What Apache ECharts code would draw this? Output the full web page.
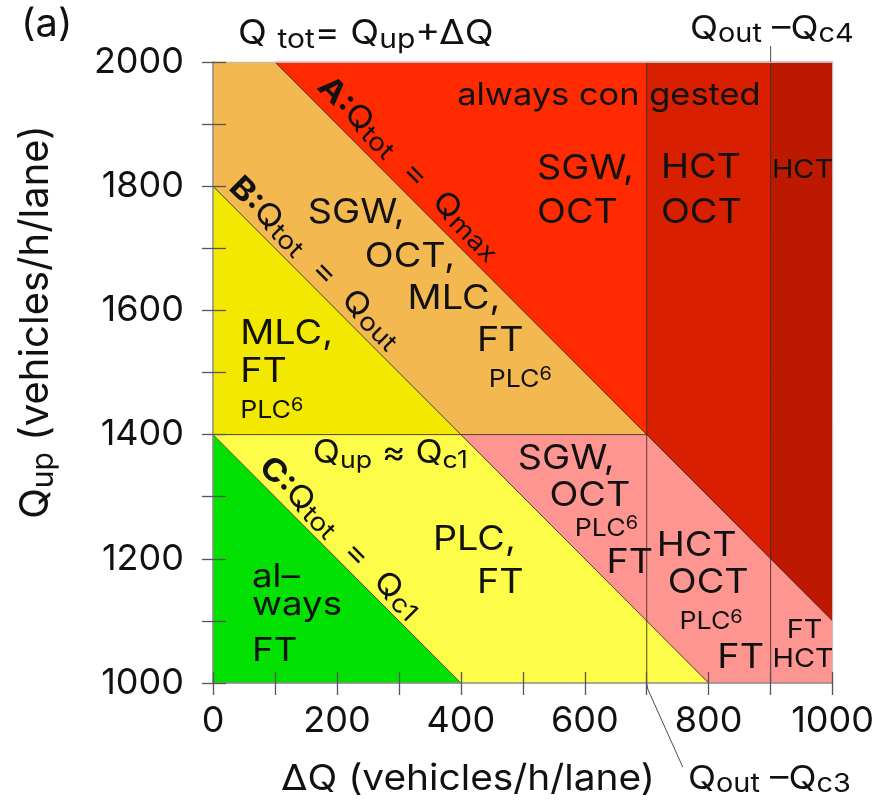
<!DOCTYPE html>
<html>
<head>
<meta charset="utf-8">
<title>Traffic states vs. upstream and ramp flow</title>
<script src="https://cdn.jsdelivr.net/npm/echarts@6/dist/echarts.min.js"></script>
<style>
html, body { margin: 0; padding: 0; background: #ffffff; }
#chart { width: 877px; height: 809px; }
</style>
</head>
<body>
<div id="chart"></div>
<script>
// Labelled tick values (ticks are drawn every 100)
const xTickLabels = [0, 200, 400, 600, 800, 1000];
const yTickLabels = [1000, 1200, 1400, 1600, 1800, 2000];

// Traffic-state regions, vertices given as [ΔQ, Qup]
const freeFlowRegion   = [[0, 1000], [0, 1400], [400, 1000]];
const plcLowRegion     = [[0, 1400], [400, 1400], [800, 1000], [400, 1000]];
const mlcRegion        = [[0, 1400], [0, 1800], [400, 1400]];
const sgwOctRegion     = [[0, 1800], [0, 2000], [100, 2000], [700, 1400], [400, 1400]];
const congestedRegion  = [[100, 2000], [700, 2000], [700, 1400]];
const mixedRegion      = [[400, 1400], [700, 1400], [1000, 1100], [1000, 1000], [800, 1000]];
const hctOctRegion     = [[700, 2000], [900, 2000], [900, 1200], [700, 1400]];
const hctRegion        = [[900, 2000], [1000, 2000], [1000, 1100], [900, 1200]];

// Boundary lines: A (Qtot = Qmax), B (Qtot = Qout), C (Qtot = Qc1), Qup = Qc1, Qout - Qc3, Qout - Qc4
const lineA   = [[100, 2000], [1000, 1100]];
const lineB   = [[0, 1800], [800, 1000]];
const lineC   = [[0, 1400], [400, 1000]];
const lineQc1 = [[0, 1400], [700, 1400]];
const lineQc3 = [[700, 2000], [700, 1000]];
const lineQc4 = [[900, 2000], [900, 1000]];

const regions = [freeFlowRegion, plcLowRegion, mlcRegion, sgwOctRegion,
                 congestedRegion, mixedRegion, hctOctRegion, hctRegion];
const regionColors = ['#03e103', '#fdfc48', '#f3e900', '#f3b84f',
                      '#ff2a00', '#ff9591', '#d81f00', '#bd1900'];
const boundaries = [lineA, lineB, lineC, lineQc1, lineQc3, lineQc4];

const FONT = 'Inter, "Liberation Sans", sans-serif';
const INK = '#111111';
const WIDE = 1.11;   // horizontal stretch of the annotation lettering

function richFor(size, subRatio) {
  const r = subRatio || 0.76;
  return {
    s: { fontSize: Math.round(size * r), lineHeight: Math.round(size * 0.64), verticalAlign: 'bottom', fontFamily: FONT, fill: INK },
    p: { fontSize: Math.round(size * 0.74), lineHeight: Math.round(size * 0.5), verticalAlign: 'top', fontFamily: FONT, fill: INK },
    b: { fontSize: size, fontWeight: 'bold', fontFamily: FONT, fill: INK }
  };
}

// State annotations: text, anchor ΔQ, anchor Qup, font size (left aligned, vertically centred)
const stateLabels = [
  ['always con gested', 394, 1946, 31],
  ['SGW,', 523, 1828, 34], ['OCT', 523, 1758, 34],
  ['HCT', 723, 1829, 34], ['OCT', 723, 1758, 34],
  ['HCT', 902, 1826, 26],
  ['SGW,', 153, 1758, 34], ['OCT,', 245, 1686, 34], ['MLC,', 314, 1618, 34],
  ['FT', 426, 1551, 34], ['PLC{p|6}', 445, 1488, 24],
  ['MLC,', 44, 1562, 34], ['FT', 44, 1501, 34], ['PLC{p|6}', 44, 1438, 24],
  ['Q{s|up} ≈ Q{s|c1}', 161, 1369, 32],
  ['PLC,', 355, 1230, 34], ['FT', 426, 1161, 34],
  ['al–', 63, 1171, 33], ['ways', 63, 1126, 33], ['FT', 63, 1052, 33],
  ['SGW,', 492, 1361, 34], ['OCT', 543, 1301, 34], ['PLC{p|6}', 584, 1248, 24], ['FT', 635, 1193, 34],
  ['HCT', 716, 1221, 34], ['OCT', 734, 1161, 34], ['PLC{p|6}', 753, 1098, 24], ['FT', 814, 1040, 34],
  ['FT', 926, 1085, 26], ['HCT', 903, 1039, 26]
];

// Labels written along the diagonal boundaries: text, point on the line, offset from line (px)
const lineLabels = [
  ['{b|A:}Q{s|tot}  =  Q{s|max}', 294, 1806, 20],
  ['{b|B:}Q{s|tot}  =  Q{s|out}', 144, 1656, 18],
  ['{b|C:}Q{s|tot}  =  Q{s|c1}', 186, 1214, 17]
];

const chart = echarts.init(document.getElementById('chart'));

function renderRegion(params, api) {
  const i = params.dataIndex;
  return {
    type: 'polygon',
    shape: { points: regions[i].map(p => api.coord(p)) },
    style: { fill: regionColors[i], stroke: regionColors[i], lineWidth: 0.6 }
  };
}

function renderBoundary(params, api) {
  const i = params.dataIndex;
  const pts = boundaries[i].map(p => api.coord(p));
  if (boundaries[i] === lineQc4) {
    pts.unshift([pts[0][0], pts[0][1] - 16]);
  }
  if (boundaries[i] === lineQc3) {
    const end = pts[pts.length - 1];
    pts.push([end[0] + 1, end[1] + 6]);
    pts.push([end[0] + 36, end[1] + 84]);
  }
  return {
    type: 'polyline',
    shape: { points: pts },
    style: { stroke: '#3a2b24', lineWidth: 1, fill: null, opacity: 0.85 }
  };
}

function renderStateLabel(params, api) {
  const lab = stateLabels[params.dataIndex];
  const c = api.coord([lab[1], lab[2]]);
  return {
    type: 'text',
    x: c[0], y: c[1], scaleX: WIDE,
    style: {
      text: lab[0], rich: richFor(lab[3]),
      fontSize: lab[3], lineHeight: Math.round(lab[3] * 1.15), fontFamily: FONT, fill: INK,
      align: 'left', verticalAlign: 'middle'
    }
  };
}

function renderLineLabel(params, api) {
  const lab = lineLabels[params.dataIndex];
  const c = api.coord([lab[1], lab[2]]);
  const d = lab[3] / Math.SQRT2;
  return {
    type: 'text',
    x: c[0] + d, y: c[1] - d,
    rotation: -Math.PI / 4, scaleX: 1.13,
    style: {
      text: lab[0], rich: richFor(31, 0.82),
      fontSize: 31, lineHeight: 35, fontFamily: FONT, fill: INK,
      align: 'center', verticalAlign: 'middle'
    }
  };
}

const tickStyle = { color: '#555555', width: 1.3 };
const axisLineStyle = { color: '#8d8d8d', width: 1.5 };
const frameStyle = { color: '#bdbdbd', width: 1 };

const option = {
  animation: false,
  grid: { left: 213, right: 44, top: 62, bottom: 126 },
  xAxis: [
    {
      type: 'value', min: 0, max: 1000, interval: 100, position: 'bottom', z: 10,
      axisLine: { show: true, onZero: false, lineStyle: axisLineStyle },
      axisTick: { show: true, inside: false, length: 12, lineStyle: tickStyle },
      axisLabel: {
        show: true, margin: 20, fontSize: 36, fontFamily: FONT, color: INK,
        showMinLabel: true, showMaxLabel: true,
        formatter: v => (xTickLabels.includes(v) ? String(v) : '')
      },
      splitLine: { show: false }
    },
    {
      type: 'value', min: 0, max: 1000, interval: 100, position: 'bottom', z: 10,
      axisLine: { show: false, onZero: false },
      axisTick: { show: true, inside: true, length: 11, lineStyle: tickStyle },
      axisLabel: { show: false }, splitLine: { show: false }
    },
    {
      type: 'value', min: 0, max: 1000, position: 'top', z: 10,
      axisLine: { show: true, onZero: false, lineStyle: frameStyle },
      axisTick: { show: false }, axisLabel: { show: false }, splitLine: { show: false }
    }
  ],
  yAxis: [
    {
      type: 'value', min: 1000, max: 2000, interval: 100, position: 'left', z: 10,
      axisLine: { show: true, onZero: false, lineStyle: axisLineStyle },
      axisTick: { show: true, inside: false, length: 11, lineStyle: tickStyle },
      axisLabel: {
        show: true, margin: 29, fontSize: 36, fontFamily: FONT, color: INK,
        showMinLabel: true, showMaxLabel: true,
        formatter: v => (yTickLabels.includes(v) ? String(v) : '')
      },
      splitLine: { show: false }
    },
    {
      type: 'value', min: 1000, max: 2000, interval: 100, position: 'left', z: 10,
      axisLine: { show: false, onZero: false },
      axisTick: { show: true, inside: true, length: 13, lineStyle: tickStyle },
      axisLabel: { show: false }, splitLine: { show: false }
    },
    {
      type: 'value', min: 1000, max: 2000, position: 'right', z: 10,
      axisLine: { show: true, onZero: false, lineStyle: frameStyle },
      axisTick: { show: false }, axisLabel: { show: false }, splitLine: { show: false }
    }
  ],
  series: [
    { type: 'custom', z: 1, renderItem: renderRegion, data: regions.map((r, i) => [i]), silent: true },
    { type: 'custom', z: 3, renderItem: renderBoundary, data: boundaries.map((b, i) => [i]), silent: true, clip: false },
    { type: 'custom', z: 5, renderItem: renderStateLabel, data: stateLabels.map((l, i) => [i]), silent: true, clip: false },
    { type: 'custom', z: 5, renderItem: renderLineLabel, data: lineLabels.map((l, i) => [i]), silent: true, clip: false }
  ],
  graphic: [
    { type: 'text', x: 21, y: 25, scaleX: 1.05, style: { text: '(a)', fontSize: 38, fontFamily: FONT, fill: INK, align: 'left', verticalAlign: 'middle' } },
    { type: 'text', x: 238, y: 34, scaleX: WIDE, style: {
        text: 'Q {s|tot}= Q{s|up}+ΔQ', rich: richFor(34, 0.78), fontSize: 34, lineHeight: 38,
        fontFamily: FONT, fill: INK, align: 'left', verticalAlign: 'middle' } },
    { type: 'text', x: 690, y: 29, scaleX: WIDE, style: {
        text: 'Q{s|out} –Q{s|c4}', rich: richFor(33, 0.8), fontSize: 33, lineHeight: 37,
        fontFamily: FONT, fill: INK, align: 'left', verticalAlign: 'middle' } },
    { type: 'text', x: 688, y: 779, scaleX: WIDE, style: {
        text: 'Q{s|out} –Q{s|c3}', rich: richFor(33, 0.8), fontSize: 33, lineHeight: 37,
        fontFamily: FONT, fill: INK, align: 'left', verticalAlign: 'middle' } },
    { type: 'text', x: 468, y: 779, scaleX: 1.08, style: {
        text: 'ΔQ (vehicles/h/lane)', fontSize: 36, fontFamily: FONT, fill: INK,
        align: 'center', verticalAlign: 'middle' } },
    { type: 'text', x: 36, y: 322, rotation: Math.PI / 2, style: {
        text: 'Q{s|up} (vehicles/h/lane)', rich: richFor(40, 0.76), fontSize: 40, lineHeight: 46,
        fontFamily: FONT, fill: INK, align: 'center', verticalAlign: 'middle' } }
  ]
};

chart.setOption(option);
</script>
</body>
</html>
